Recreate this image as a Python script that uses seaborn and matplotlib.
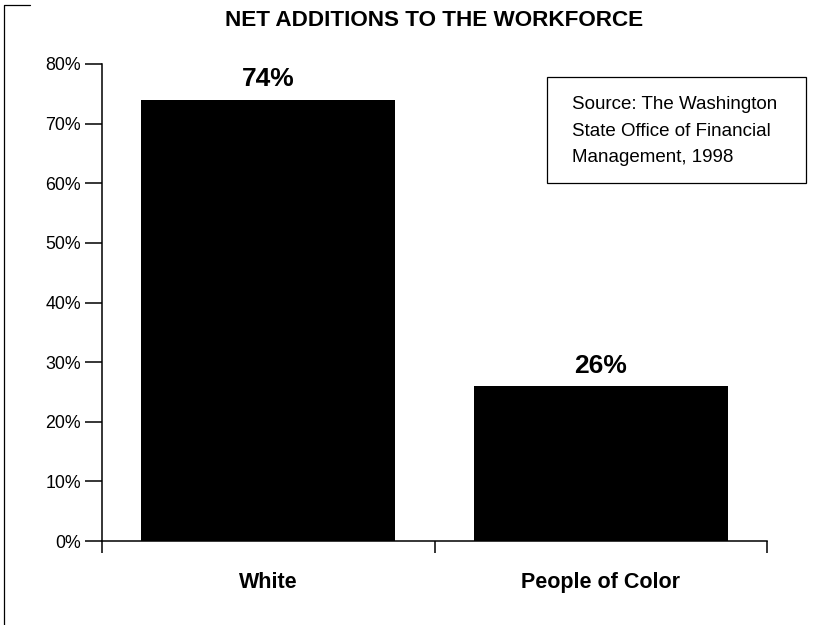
import matplotlib
matplotlib.use("Agg")
import matplotlib.pyplot as plt
from matplotlib.lines import Line2D
from matplotlib.patches import Rectangle
import pandas as pd
import seaborn as sns

# Share of net additions to the workforce, by group (percent)
groups = ["White", "People of Color"]
shares = [74, 26]
y_ticks = [0, 10, 20, 30, 40, 50, 60, 70, 80]
y_tick_labels = ["0%", "10%", "20%", "30%", "40%", "50%", "60%", "70%", "80%"]
title_text = "NET ADDITIONS TO THE WORKFORCE"
source_text = "Source: The Washington\nState Office of Financial\nManagement, 1998"

df = pd.DataFrame({"group": groups, "share": shares})

sns.set_theme(style="white")
plt.rcParams["font.family"] = ["Liberation Sans", "DejaVu Sans"]
plt.rcParams["axes.linewidth"] = 1.1
for key in ("text.color", "axes.labelcolor", "xtick.color", "ytick.color",
            "xtick.labelcolor", "ytick.labelcolor"):
    plt.rcParams[key] = "black"

fig = plt.figure(figsize=(8.38, 6.25), dpi=100)
ax = fig.add_axes([0.1217, 0.1344, 0.7936, 0.7632])

sns.barplot(data=df, x="group", y="share", color="black", saturation=1,
            width=0.765, edgecolor="black", linewidth=0, ax=ax)

ax.set_xlim(-0.5, 1.5)
ax.set_ylim(0, 80)
ax.set_xlabel("")
ax.set_ylabel("")

for side in ("top", "right"):
    ax.spines[side].set_visible(False)
for side in ("left", "bottom"):
    ax.spines[side].set_color("black")

# y axis: outward ticks with percent labels
ax.set_yticks(y_ticks)
ax.set_yticklabels(y_tick_labels, fontsize=12.8, color="black")
ax.tick_params(axis="y", direction="out", length=12, width=1.1,
               color="black", pad=3, left=True)

# x axis: category labels, with separator ticks between categories
ax.set_xticks(range(len(groups)))
ax.set_xticklabels(groups, fontsize=15.5, fontweight="bold", color="black")
ax.tick_params(axis="x", which="major", length=0, pad=22)
ax.set_xticks([-0.5, 0.5, 1.5], minor=True)
ax.tick_params(axis="x", which="minor", direction="out", length=8.6,
               width=1.1, color="black", bottom=True)

# value labels above the bars
for container in ax.containers:
    ax.bar_label(container, fmt="{:.0f}%", padding=6,
                 fontsize=19, fontweight="bold", color="black")

fig.text(0.518, 0.968, title_text, ha="center", va="center",
         fontsize=16.2, fontweight="bold", color="black")

# source note in a framed box
fig.patches.append(Rectangle((0.6527, 0.7072), 0.3091, 0.1696,
                             transform=fig.transFigure, fill=False,
                             edgecolor="black", linewidth=0.9))
fig.text(0.6826, 0.7904, source_text, ha="left", va="center",
         fontsize=13.5, linespacing=1.72, color="black")

# page frame edge on the left
fig.add_artist(Line2D([0.0048, 0.0048, 0.036], [0.0, 0.992, 0.992],
                      transform=fig.transFigure, color="black",
                      linewidth=0.9))

fig.savefig("out.png", dpi=100, facecolor="white")
